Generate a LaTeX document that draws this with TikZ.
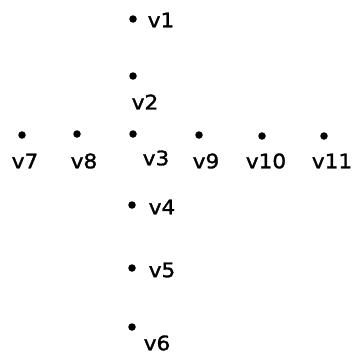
\documentclass[tikz,border=0pt]{standalone}
\usepackage{fontspec}
\newfontfamily\labfont[FakeStretch=1.08,FakeBold=1.5]{DejaVu Sans}
\begin{document}
\begin{tikzpicture}[x=1pt,y=-1pt,
  vdot/.style={circle,fill=black,inner sep=0pt,minimum size=7.5pt},
  vlab/.style={inner sep=0pt,font=\labfont\fontsize{20}{22}\selectfont}]
\useasboundingbox (0,0) rectangle (354,356);
% dots
\node[vdot] (d1) at (133,19) {};
\node[vdot] (d2) at (133,76) {};
\node[vdot] (d7) at (22,135) {};
\node[vdot] (d8) at (77,134) {};
\node[vdot] (d3) at (133,134) {};
\node[vdot] (d9) at (199,135) {};
\node[vdot] (d10) at (262,136) {};
\node[vdot] (d11) at (324,136) {};
\node[vdot] (d4) at (132,205) {};
\node[vdot] (d5) at (132,268) {};
\node[vdot] (d6) at (132,327) {};
% labels
\node[vlab] (l1) at (161,20) {v1};
\node[vlab] (l2) at (145,102) {v2};
\node[vlab] (l7) at (25,161) {v7};
\node[vlab] (l8) at (84,161) {v8};
\node[vlab] (l3) at (156,158) {v3};
\node[vlab] (l9) at (206,161) {v9};
\node[vlab] (l10) at (266,161) {v10};
\node[vlab] (l11) at (332,161) {v11};
\node[vlab] (l4) at (162,207) {v4};
\node[vlab] (l5) at (162,270) {v5};
\node[vlab] (l6) at (157,343) {v6};
\end{tikzpicture}
\end{document}
